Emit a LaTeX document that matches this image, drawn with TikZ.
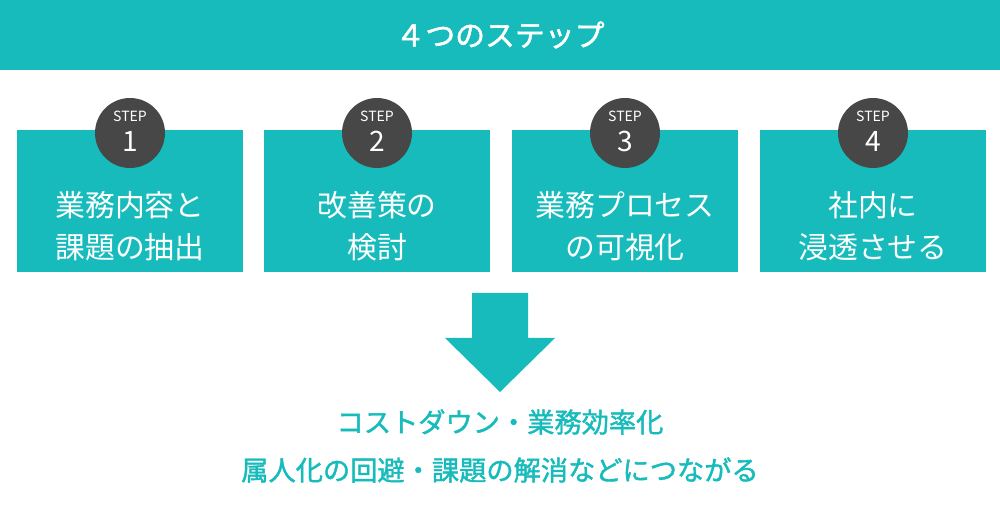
\documentclass[tikz,border=0pt]{standalone}
\usepackage{fontspec}
\setmainfont{Noto Sans CJK JP}
\newfontfamily\cjkb{Noto Sans CJK JP}[FakeBold=1.5]
\definecolor{teal1}{HTML}{17BBBB}
\definecolor{stepgray}{HTML}{474747}
\tikzset{
  stepbox/.style={fill=teal1, minimum width=4.54cm, minimum height=2.84cm, inner sep=0pt},
  badge/.style={circle, fill=stepgray, minimum size=1.4cm, inner sep=0pt},
  boxtext/.style={text=white, align=center, font=\fontsize{17}{24}\selectfont}
}
\begin{document}
\begin{tikzpicture}[x=0.02cm, y=-0.02cm]
            \useasboundingbox (0,0) rectangle (1000,519);
            \fill[teal1] (0,0) rectangle (1000,70);
            \node[text=white, font=\cjkb\fontsize{17}{20}\selectfont] (title) at (500,35) {４つのステップ};

            \foreach \i/\x/\txt in {1/130/{業務内容と\\課題の抽出}, 2/377/{改善策の\\検討}, 3/625/{業務プロセス\\の可視化}, 4/873/{社内に\\浸透させる}} {
                \node[stepbox] (box\i) at (\x,201) {};
                \node[boxtext] (lbl\i) at (\x,226) {\txt};
                \node[badge] (badge\i) at (\x,133) {};
                \node[text=white, font=\fontsize{8}{8}\selectfont] (steplbl\i) at (\x,116) {STEP};
                \node[text=white, font=\fontsize{16}{16}\selectfont] (num\i) at (\x,141) {\i};
            }

            \fill[teal1] (472,293) -- (528,293) -- (528,338) -- (555,338) -- (500,392) -- (445,338) -- (472,338) -- cycle;

            \node[text=teal1, font=\cjkb\fontsize{15.5}{20}\selectfont] (res1) at (500,422) {コストダウン・業務効率化};
            \node[text=teal1, font=\cjkb\fontsize{15.5}{20}\selectfont] (res2) at (500,470) {属人化の回避・課題の解消などにつながる};
        \end{tikzpicture}
\end{document}
